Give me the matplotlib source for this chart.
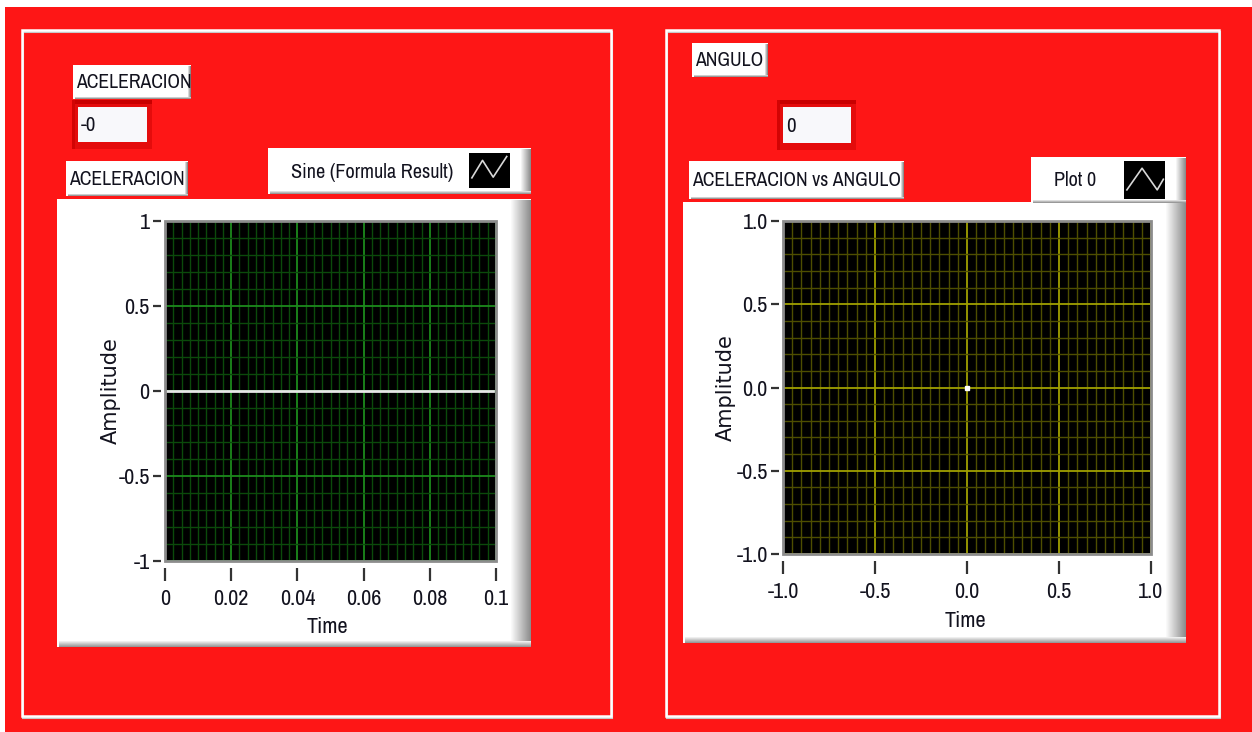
import matplotlib
matplotlib.use('Agg')
import matplotlib.pyplot as plt
from matplotlib import font_manager
from matplotlib.patches import Rectangle
from matplotlib.ticker import FixedLocator, MultipleLocator

# datos del panel
tiempo = [0.0, 0.099]
aceleracion = [0.0, 0.0]
angulo = [0.0]
acel_vs_angulo = [0.0]

ticks_t = [0, 0.02, 0.04, 0.06, 0.08, 0.1]
etiquetas_t = ['0', '0.02', '0.04', '0.06', '0.08', '0.1']
ticks_amp = [-1, -0.5, 0, 0.5, 1]
etiquetas_amp = ['-1', '-0.5', '0', '0.5', '1']
ticks_ang = [-1, -0.5, 0, 0.5, 1]
etiquetas_ang = ['-1.0', '-0.5', '0.0', '0.5', '1.0']
valor_acel = '-0'
valor_ang = '0'

W, H = 1252, 732
ROJO = '#fe1616'
TXT = '#12121e'

# buscar una fuente estrecha, como la de LabVIEW
fuentes = font_manager.fontManager.ttflist
estrecha = None
for f in fuentes:
    if 'narrow' in f.name.lower() or 'condensed' in f.name.lower():
        estrecha = f.name
        break
if estrecha is None:
    for f in fuentes:
        if 'condensed' in str(f.stretch).lower():
            estrecha = f.name
            plt.rcParams['font.stretch'] = 'condensed'
            break
if estrecha is None:
    estrecha = 'Liberation Sans'
plt.rcParams['font.family'] = [estrecha, 'DejaVu Sans']

fig = plt.figure(figsize=(W / 100, H / 100), dpi=100)
fig.patch.set_facecolor(ROJO)

bg = fig.add_axes([0, 0, 1, 1])
bg.set_xlim(0, W)
bg.set_ylim(H, 0)
bg.axis('off')


def rect(x0, y0, x1, y1, color, z=1):
    bg.add_patch(Rectangle((x0, y0), x1 - x0, y1 - y0, facecolor=color,
                           edgecolor='none', zorder=z))


def caja(x0, y0, x1, y1, sombra=3, z=2):
    rect(x0, y0, x1, y1, 'white', z)
    for i in range(sombra):
        g = 1 - 0.45 * (i + 1) / sombra
        rect(x1 - sombra + i, y0 + 1, x1 - sombra + i + 1, y1, (g, g, g), z)
    sb = max(2, sombra // 3)
    for i in range(sb):
        g = 1 - 0.4 * (i + 1) / sb
        rect(x0 + 2, y1 - sb + i, x1, y1 - sb + i + 1, (g, g, g), z)


def etiqueta(x0, y0, x1, y1, texto):
    caja(x0, y0, x1, y1, sombra=3, z=3)
    bg.text(x0 + 3, (y0 + y1) / 2 + 1, texto, ha='left', va='center',
            fontsize=14.2, color=TXT, zorder=4)


def indicador(x0, y0, x1, y1, texto):
    rect(x0 - 6, y0 - 7, x1 + 5, y1 + 7, '#e40c0c', 2)
    rect(x0 - 6, y0 - 7, x1 + 5, y0 - 3, '#c80000', 2)
    rect(x0 - 6, y0 - 7, x0 - 3, y1 + 7, '#d20404', 2)
    rect(x0, y0, x1, y1, '#f8f8fb', 3)
    bg.text(x0 + 3, (y0 + y1) / 2 + 1, texto, ha='left', va='center',
            fontsize=15, color=TXT, zorder=4)


def marco(x0, y0, x1, y1):
    bg.add_patch(Rectangle((x0 + 1, y0 + 2), x1 - x0, y1 - y0, fill=False,
                           edgecolor='#c8c8c8', lw=1.5, zorder=1))
    bg.add_patch(Rectangle((x0, y0), x1 - x0, y1 - y0, fill=False,
                           edgecolor='white', lw=1.8, zorder=1))


def leyenda(x0, y0, x1, y1, texto, ix0, iy0, ix1, iy1, zig):
    caja(x0, y0, x1, y1, sombra=10, z=3)
    bg.text(x0 + 23, (y0 + y1) / 2 + 1, texto, ha='left', va='center',
            fontsize=14.6, color=TXT, zorder=4)
    rect(ix0, iy0, ix1, iy1, 'black', 4)
    xs = [ix0 + fx * (ix1 - ix0) for fx, fy in zig]
    ys = [iy0 + fy * (iy1 - iy0) for fx, fy in zig]
    bg.plot(xs, ys, color='#d8d8d8', lw=1.2, zorder=5)


def grafica(x0, y0, x1, y1, xt, xl, yt, yl, xmin, ymin, mayor, menor):
    ax = fig.add_axes([x0 / W, 1 - y1 / H, (x1 - x0) / W, (y1 - y0) / H])
    ax.set_facecolor('black')
    ax.set_xlim(xt[0], xt[-1])
    ax.set_ylim(yt[0], yt[-1])
    ax.xaxis.set_major_locator(FixedLocator(xt))
    ax.yaxis.set_major_locator(FixedLocator(yt))
    ax.set_xticklabels(xl)
    ax.set_yticklabels(yl)
    ax.xaxis.set_minor_locator(MultipleLocator(xmin))
    ax.yaxis.set_minor_locator(MultipleLocator(ymin))
    ax.grid(which='minor', color=menor, lw=1.0)
    ax.grid(which='major', color=mayor, lw=1.3)
    ax.set_axisbelow(True)
    for s in ['top', 'right']:
        ax.spines[s].set_visible(False)
    ax.spines['bottom'].set_position(('outward', 5))
    ax.spines['left'].set_position(('outward', 3))
    ax.spines['bottom'].set_visible(False)
    ax.spines['left'].set_visible(False)
    ax.tick_params(which='minor', length=0)
    ax.tick_params(axis='x', which='major', length=9, width=1.6, color='#333',
                   pad=6, labelsize=16, labelcolor=TXT)
    ax.tick_params(axis='y', which='major', length=6, width=1.6, color='#333',
                   pad=2, labelsize=16, labelcolor=TXT)
    ax.add_patch(Rectangle((0, 0), 1, 1, transform=ax.transAxes, fill=False,
                           edgecolor='#8c8c8c', lw=2, clip_on=False, zorder=6))
    return ax


# fondo y marcos
rect(0, 0, W, 7, 'white', 0)
rect(0, 0, 5, H, 'white', 0)
marco(22, 30, 611, 716)
marco(666, 30, 1219, 716)

# panel izquierdo
etiqueta(73, 65, 191, 99, 'ACELERACION')
indicador(78, 107, 147, 142, valor_acel)
etiqueta(66, 161, 188, 196, 'ACELERACION')
caja(57, 199, 531, 647, sombra=20, z=2)
leyenda(268, 148, 531, 194, 'Sine (Formula Result)', 469, 153, 510, 188,
        [(0.07, 0.71), (0.33, 0.21), (0.59, 0.69), (0.92, 0.1)])
bg.text(111, 391, 'Amplitude', rotation=90, ha='center', va='center',
        fontsize=15, family='DejaVu Sans', stretch='normal', color=TXT, zorder=4)
bg.text(327, 627, 'Time', ha='center', va='center', fontsize=16, color=TXT, zorder=4)

ax1 = grafica(165, 221, 496, 561, ticks_t, etiquetas_t, ticks_amp, etiquetas_amp,
              0.0025, 0.1, '#1c8a1c', '#0b4a0b')
ax1.plot(tiempo, aceleracion, color='#e6e6e6', lw=2, zorder=3)

# panel derecho
etiqueta(692, 43, 768, 77, 'ANGULO')
indicador(783, 107, 851, 143, valor_ang)
etiqueta(689, 161, 904, 199, 'ACELERACION vs ANGULO')
caja(683, 202, 1186, 643, sombra=20, z=2)
leyenda(1031, 157, 1186, 203, 'Plot 0', 1124, 161, 1165, 199,
        [(0.07, 0.76), (0.44, 0.19), (0.81, 0.76), (0.96, 0.48)])
bg.text(726, 388, 'Amplitude', rotation=90, ha='center', va='center',
        fontsize=15, family='DejaVu Sans', stretch='normal', color=TXT, zorder=4)
bg.text(965, 621, 'Time', ha='center', va='center', fontsize=16, color=TXT, zorder=4)

ax2 = grafica(783, 221, 1151, 554, ticks_ang, etiquetas_ang, ticks_ang, etiquetas_ang,
              0.05, 0.1, '#a0a000', '#4e4e00')
ax2.plot(angulo, acel_vs_angulo, 's', color='white', ms=2.5, zorder=3)

fig.savefig('out.png', dpi=100, facecolor=fig.get_facecolor())
